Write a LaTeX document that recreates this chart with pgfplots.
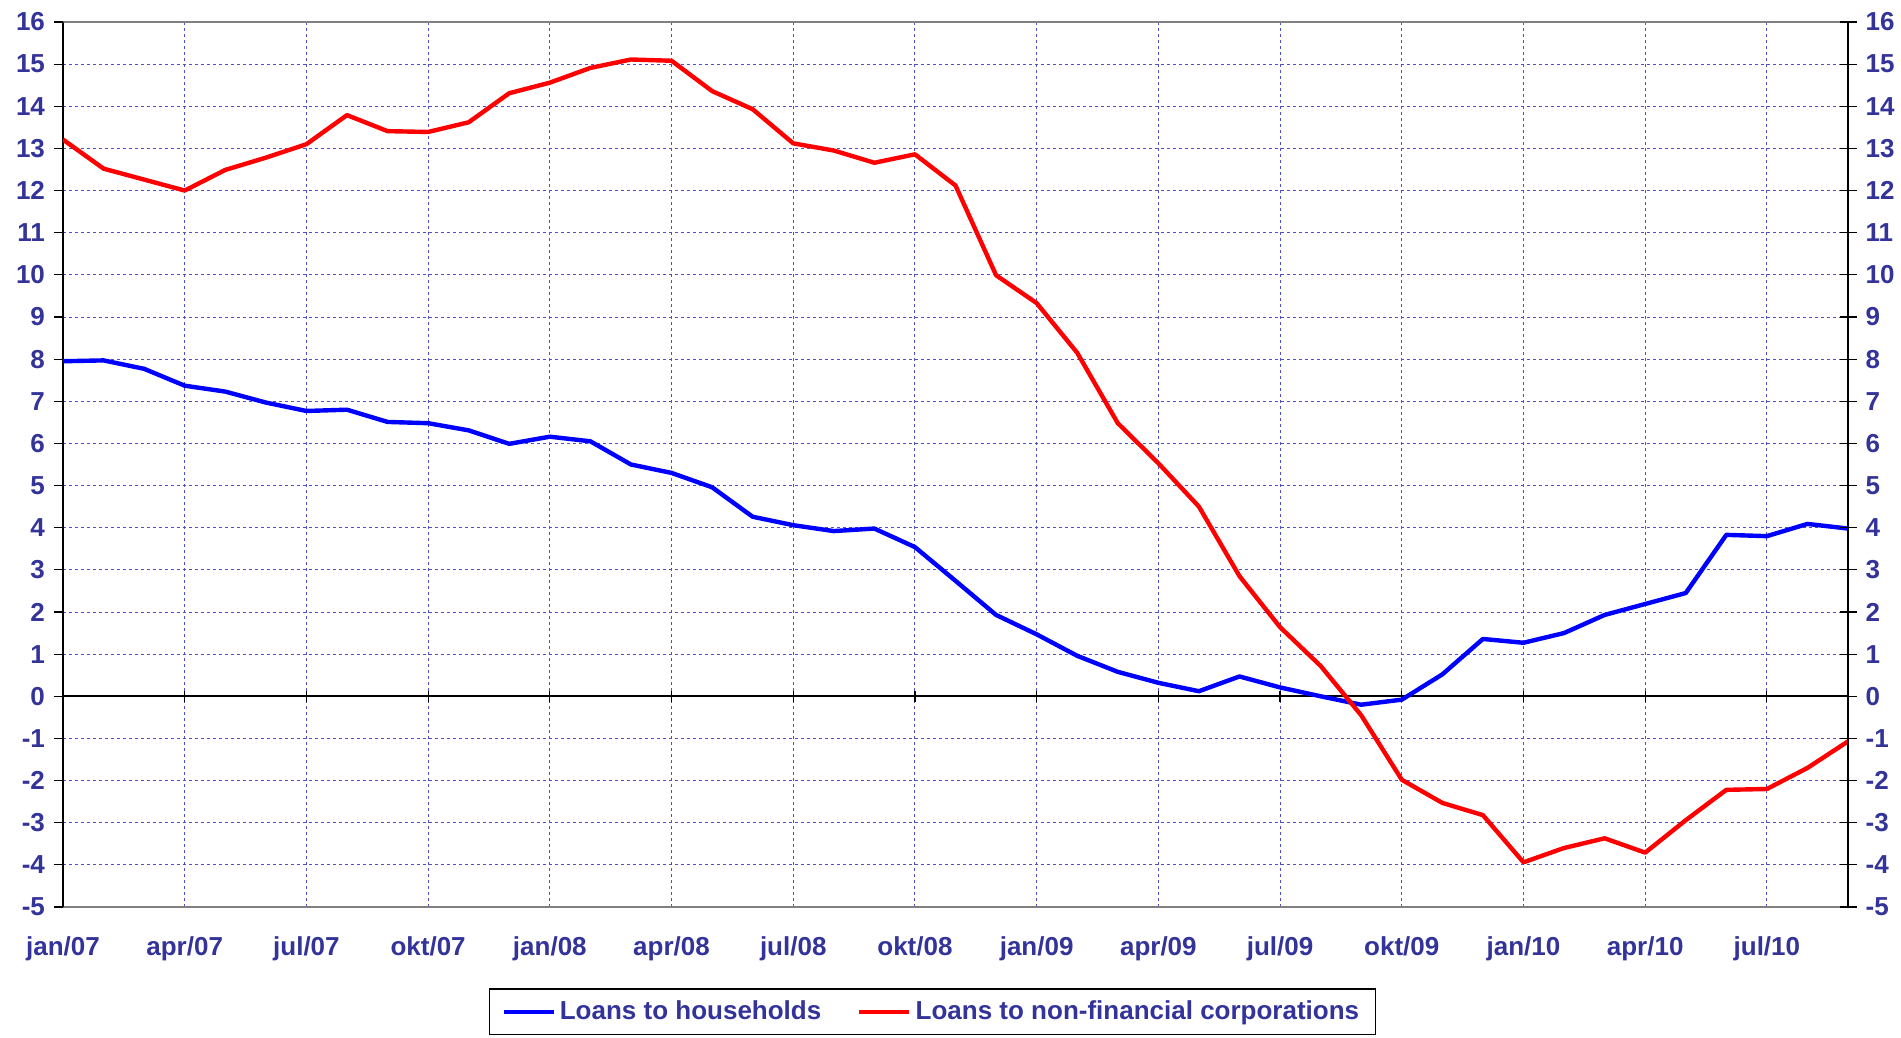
\documentclass[border=0pt]{standalone}
\usepackage{fontspec}
\setmainfont{Liberation Sans}
\usepackage{pgfplots}
\usepackage{pgfplotstable}
\pgfplotsset{compat=1.18}
\definecolor{navy}{RGB}{51,51,153}
\definecolor{gridblue}{RGB}{80,80,200}

\pgfplotstableread{
i hh nfc
0 7.95 13.21
1 7.97 12.52
2 7.77 12.26
3 7.37 12.00
4 7.23 12.49
5 6.97 12.78
6 6.77 13.10
7 6.80 13.79
8 6.51 13.41
9 6.48 13.39
10 6.31 13.62
11 5.99 14.31
12 6.16 14.56
13 6.05 14.91
14 5.50 15.11
15 5.30 15.08
16 4.96 14.36
17 4.26 13.93
18 4.06 13.12
19 3.92 12.95
20 3.98 12.66
21 3.54 12.86
22 2.74 12.12
23 1.93 9.99
24 1.47 9.33
25 0.96 8.15
26 0.58 6.48
27 0.32 5.53
28 0.12 4.50
29 0.47 2.85
30 0.21 1.64
31 0.00 0.72
32 -0.20 -0.45
33 -0.08 -1.98
34 0.52 -2.53
35 1.36 -2.82
36 1.27 -3.94
37 1.50 -3.60
38 1.93 -3.37
39 2.19 -3.71
40 2.45 -2.94
41 3.83 -2.22
42 3.80 -2.20
43 4.09 -1.70
44 3.98 -1.07
}\data

\begin{document}
\begin{tikzpicture}[font=\fontsize{13}{15}\selectfont\bfseries]
\begin{axis}[
  scale only axis, width=892.5pt, height=442.5pt,
  xmin=0, xmax=44, ymin=-5, ymax=16,
  xtick={0,3,...,42},
  xticklabels={jan/07,apr/07,jul/07,okt/07,jan/08,apr/08,jul/08,okt/08,jan/09,apr/09,jul/09,okt/09,jan/10,apr/10,jul/10},
  ytick={-5,...,16},
  grid=major,
  major grid style={gridblue, line width=0.45pt, dash pattern=on 1.5pt off 1.5pt},
  separate axis lines,
  axis x line=box,
  axis y line*=left,
  x axis line style={draw=gray, line width=1.2pt},
  y axis line style={draw=black, line width=0.8pt},
  xtick style={draw=none},
  ytick style={black, line width=0.6pt},
  tick align=outside, major tick length=4.5pt,
  /pgf/number format/assume math mode=true,
  tick label style={text=navy, font=\fontsize{13}{15}\selectfont\bfseries},
  xticklabel style={yshift=-7pt},
  yticklabel style={xshift=-1pt},
  legend columns=2,
  legend style={at={(0.487,-0.092)}, anchor=north, draw=black, line width=0.6pt,
    text=navy, font=\fontsize{13}{15}\selectfont\bfseries,
    /tikz/every even column/.append style={column sep=16pt},
    inner xsep=6pt, inner ysep=4pt},
  legend image code/.code={\draw[#1] (0pt,0pt) -- (25pt,0pt);},
]
\coordinate (SW) at (rel axis cs:0,0);
\coordinate (NE) at (rel axis cs:1,1);
\draw[black, line width=0.8pt] (axis cs:0,0) -- (axis cs:44,0);
\pgfplotsinvokeforeach{3,6,...,42}{\draw[black, line width=0.6pt] (axis cs:#1,-0.13) -- (axis cs:#1,0.13);}
\addplot[blue, line width=2.2pt, line join=round] table[x=i, y=hh]{\data};
\addlegendentry{Loans to households}
\addplot[red, line width=2.2pt, line join=round] table[x=i, y=nfc]{\data};
\addlegendentry{Loans to non-financial corporations}
\end{axis}
\begin{axis}[
  scale only axis, width=892.5pt, height=442.5pt,
  xmin=0, xmax=44, ymin=-5, ymax=16,
  axis x line=none,
  axis y line*=right,
  y axis line style={draw=black, line width=0.8pt},
  ytick={-5,...,16},
  ytick style={black, line width=0.6pt},
  tick align=center, major tick length=8.5pt,
  /pgf/number format/assume math mode=true,
  tick label style={text=navy, font=\fontsize{13}{15}\selectfont\bfseries},
  yticklabel style={xshift=1pt},
]
\end{axis}
\pgfresetboundingbox
\path[use as bounding box] ([shift={(-31.5pt,-65pt)}]SW) rectangle ([shift={(26.5pt,11pt)}]NE);
\end{tikzpicture}
\end{document}
